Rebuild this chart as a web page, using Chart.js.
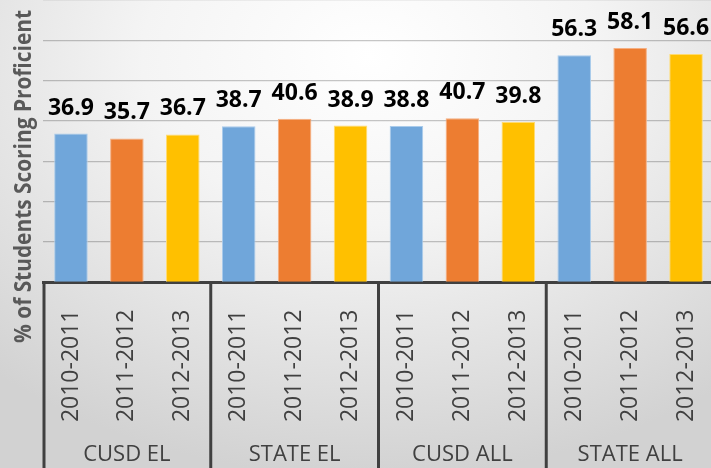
<!DOCTYPE html>
<html>
<head>
<meta charset="utf-8">
<script src="https://cdn.jsdelivr.net/npm/chart.js@4.4.1/dist/chart.umd.min.js"></script>
<style>
    body {
        margin: 0;
        width: 711px;
        height: 468px;
        overflow: hidden;
        background: radial-gradient(ellipse 80% 90% at 52% 12%, #ffffff 0%, #f4f4f4 40%, #d2d2d2 100%);
    }
    #wrap {
        position: relative;
        width: 714px;
        height: 468px;
    }
</style>
</head>
<body>
<div id="wrap"><canvas id="myChart"></canvas></div>
<script>
const groups = ['CUSD EL', 'STATE EL', 'CUSD ALL', 'STATE ALL'];
const years = ['2010-2011', '2011-2012', '2012-2013'];
const values2010 = [36.9, 38.7, 38.8, 56.3];
const values2011 = [35.7, 40.6, 40.7, 58.1];
const values2012 = [36.7, 38.9, 39.8, 56.6];
const yMax = 70;
const yStep = 10;
const yTitle = '% of Students Scoring Proficient';

const yearFill = ['#70a6da', '#ed7d31', '#ffc000'];
const yearBorder = ['#a9cbeb', '#f5ae80', '#ffdb70'];

// one bar per (group, year)
const labels = [];
const values = [];
const fills = [];
const borders = [];
const byYear = [values2010, values2011, values2012];
groups.forEach(function (g, gi) {
    years.forEach(function (y, yi) {
        labels.push(y);
        values.push(byYear[yi][gi]);
        fills.push(yearFill[yi]);
        borders.push(yearBorder[yi]);
    });
});

const valueLabels = {
    id: 'valueLabels',
    afterDatasetsDraw(chart) {
        const ctx = chart.ctx;
        const meta = chart.getDatasetMeta(0);
        ctx.save();
        ctx.font = 'bold 23px "Open Sans"';
        ctx.fillStyle = '#000000';
        ctx.textAlign = 'center';
        ctx.textBaseline = 'alphabetic';
        meta.data.forEach(function (bar, i) {
            ctx.fillText(values[i].toFixed(1), bar.x, bar.y - 19);
        });
        ctx.restore();
    }
};

const groupAxis = {
    id: 'groupAxis',
    afterDraw(chart) {
        const ctx = chart.ctx;
        const area = chart.chartArea;
        const xs = chart.scales.x;
        const h = chart.height;
        ctx.save();
        ctx.strokeStyle = '#404040';
        ctx.lineWidth = 3;
        for (let g = 0; g < groups.length; g++) {
            let x;
            if (g === 0) {
                x = area.left + 1;
            } else {
                x = (xs.getPixelForValue(g * 3 - 1) + xs.getPixelForValue(g * 3)) / 2;
            }
            ctx.beginPath();
            ctx.moveTo(x, area.bottom);
            ctx.lineTo(x, h);
            ctx.stroke();
        }
        ctx.font = '22px "Open Sans"';
        ctx.fillStyle = '#404040';
        ctx.textAlign = 'center';
        ctx.textBaseline = 'alphabetic';
        groups.forEach(function (g, gi) {
            ctx.fillText(g, xs.getPixelForValue(gi * 3 + 1), 461);
        });

        // y axis title, squeezed to the original length
        ctx.font = 'bold 23px "Open Sans"';
        ctx.fillStyle = '#595959';
        const w = ctx.measureText(yTitle).width;
        ctx.translate(31, 176.5);
        ctx.rotate(-Math.PI / 2);
        ctx.scale(333 / w, 1);
        ctx.textBaseline = 'alphabetic';
        ctx.fillText(yTitle, 0, 0);
        ctx.restore();
    }
};

const ctx = document.getElementById('myChart').getContext('2d');
new Chart(ctx, {
    type: 'bar',
    data: {
        labels: labels,
        datasets: [{
            data: values,
            backgroundColor: fills,
            borderColor: borders,
            borderWidth: 1,
            barPercentage: 0.6,
            categoryPercentage: 1
        }]
    },
    options: {
        responsive: true,
        maintainAspectRatio: false,
        animation: false,
        layout: { padding: 0 },
        plugins: {
            legend: { display: false },
            tooltip: { enabled: false }
        },
        scales: {
            x: {
                grid: { display: false },
                border: { display: true, color: '#404040', width: 3 },
                ticks: {
                    autoSkip: false,
                    minRotation: 90,
                    maxRotation: 90,
                    padding: 19,
                    color: '#404040',
                    font: { family: 'Open Sans', size: 23 }
                },
                afterFit(scale) {
                    scale.height = 185.5;
                    scale.paddingLeft = 0;
                    scale.paddingRight = 0;
                }
            },
            y: {
                min: 0,
                max: yMax,
                ticks: { display: false, stepSize: yStep },
                grid: { color: 'rgba(0,0,0,0.22)', lineWidth: 1.3, drawTicks: false },
                border: { display: false },
                afterFit(scale) {
                    scale.width = 43;
                    scale.paddingTop = 0;
                    scale.paddingBottom = 0;
                }
            }
        }
    },
    plugins: [valueLabels, groupAxis]
});
</script>
</body>
</html>
